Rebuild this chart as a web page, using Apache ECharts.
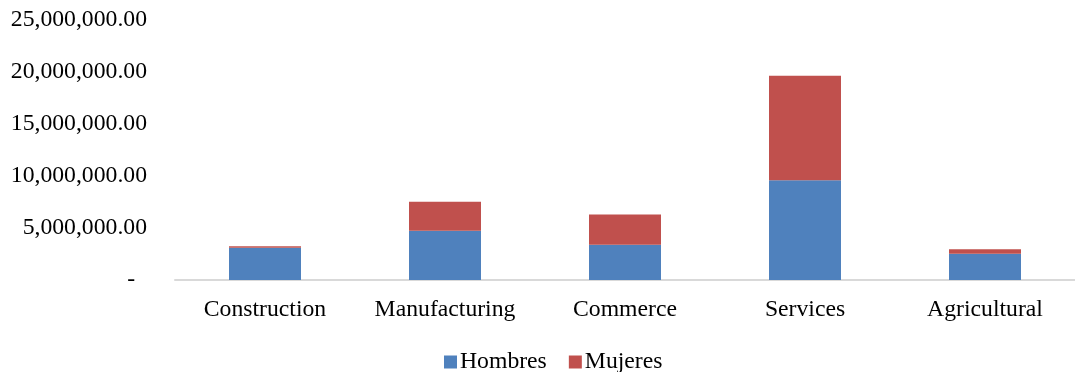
<!DOCTYPE html>
<html>
<head>
<meta charset="utf-8">
<script src="https://cdn.jsdelivr.net/npm/echarts@6/dist/echarts.min.js"></script>
<style>
  html, body { margin: 0; padding: 0; background: #fff; }
  #chart { width: 1075px; height: 372px; }
</style>
</head>
<body>
<div id="chart"></div>
<script>
// Employment by sector, split by sex
const categories = ['Construction', 'Manufacturing', 'Commerce', 'Services', 'Agricultural'];
const hombres = [3100000, 4730000, 3380000, 9600000, 2520000];
const mujeres = [150000, 2790000, 2920000, 10030000, 440000];
const yTicks = { min: 0, max: 25000000, interval: 5000000 };

const FONT = '"Liberation Serif", "Times New Roman", serif';
const FS = 23.7;

function fmt(v) {
  if (v === 0) return '-  ';
  return v.toLocaleString('en-US', { minimumFractionDigits: 2, maximumFractionDigits: 2 });
}

const chart = echarts.init(document.getElementById('chart'));
chart.setOption({
  animation: false,
  textStyle: { fontFamily: FONT },
  grid: { left: 175, top: 20, width: 910, height: 260, containLabel: false },
  legend: {
    top: 345,
    left: 439,
    itemWidth: 13,
    itemHeight: 13,
    itemGap: 22,
    icon: 'rect',
    textStyle: { fontFamily: FONT, fontSize: FS, color: '#000', padding: [0, 0, 0, -2] },
    data: ['Hombres', 'Mujeres']
  },
  xAxis: {
    type: 'category',
    data: categories,
    axisLine: { lineStyle: { color: '#D9D9D9', width: 2 } },
    axisTick: { show: false },
    axisLabel: { fontFamily: FONT, fontSize: FS, color: '#000', margin: 18, interval: 0 }
  },
  yAxis: {
    type: 'value',
    min: yTicks.min,
    max: yTicks.max,
    interval: yTicks.interval,
    splitLine: { show: false },
    axisLine: { show: false },
    axisTick: { show: false },
    axisLabel: { fontFamily: FONT, fontSize: FS, color: '#000', margin: 28, formatter: fmt }
  },
  series: [
    {
      name: 'Hombres', type: 'bar', stack: 'total', data: hombres,
      barWidth: '40%',
      itemStyle: { color: '#4F81BD' }
    },
    {
      name: 'Mujeres', type: 'bar', stack: 'total', data: mujeres,
      barWidth: '40%',
      itemStyle: { color: '#C0504D' }
    }
  ]
});
</script>
</body>
</html>
